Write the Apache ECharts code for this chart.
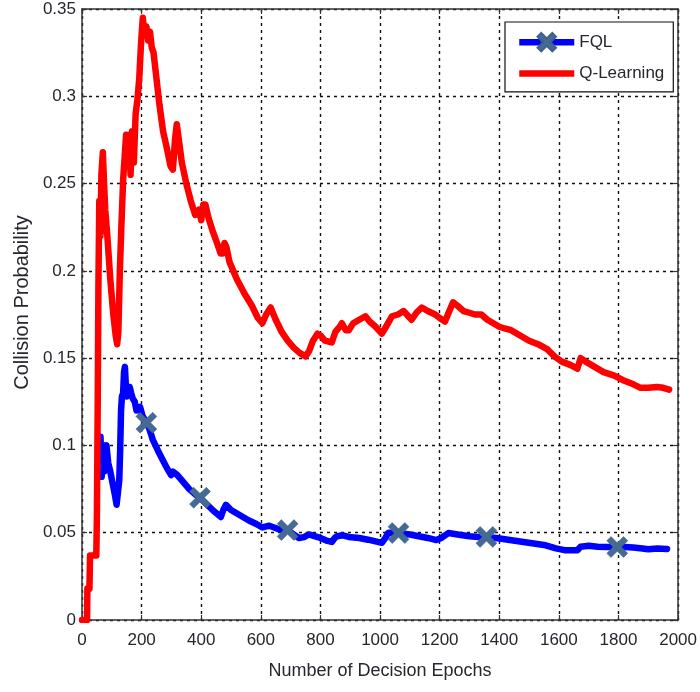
<!DOCTYPE html>
<html>
<head>
<meta charset="utf-8">
<title>Collision Probability vs Decision Epochs</title>
<script src="https://cdn.jsdelivr.net/npm/echarts@6/dist/echarts.min.js"></script>
<style>
  html, body { margin: 0; padding: 0; background: #fff; }
  #chart { width: 700px; height: 692px; }
</style>
</head>
<body>
<div id="chart"></div>
<script>
// Decision epochs and collision probability of the two learners
const seriesNames = ['FQL', 'Q-Learning'];

const fqlEpochs = [62, 66, 70, 74, 78, 82, 88, 95, 103, 110, 116, 121, 125, 128, 131, 134, 138, 141, 144, 147,
  150, 155, 160, 165, 170, 177, 183, 188, 195, 203, 216, 225, 238, 255, 270, 285, 299, 305, 310, 320,
  340, 360, 380, 396, 420, 445, 466, 474, 483, 500, 530, 560, 585, 605, 615, 628, 645, 660, 690, 710,
  728, 745, 761, 780, 800, 820, 838, 848, 856, 875, 895, 930, 960, 985, 1006, 1018, 1028, 1062, 1100, 1130,
  1160, 1189, 1205, 1229, 1260, 1300, 1330, 1357, 1390, 1430, 1470, 1510, 1550, 1590, 1619, 1640, 1662, 1673, 1700, 1730,
  1760, 1796, 1820, 1850, 1880, 1900, 1930, 1963];
const fqlValues = [0.105, 0.082, 0.100, 0.085, 0.098, 0.100, 0.090, 0.085, 0.078, 0.072, 0.066, 0.065, 0.080, 0.097, 0.120, 0.128, 0.130, 0.142, 0.145, 0.135,
  0.128, 0.130, 0.1335, 0.130, 0.127, 0.125, 0.120, 0.120, 0.122, 0.117, 0.113, 0.110, 0.103, 0.097, 0.092, 0.087, 0.083, 0.085, 0.086, 0.083,
  0.079, 0.075, 0.072, 0.070, 0.066, 0.062, 0.059, 0.063, 0.066, 0.063, 0.060, 0.057, 0.055, 0.053, 0.0535, 0.054, 0.053, 0.052, 0.0515, 0.049,
  0.047, 0.0475, 0.049, 0.048, 0.047, 0.0455, 0.0447, 0.047, 0.048, 0.0485, 0.0476, 0.047, 0.046, 0.045, 0.0442, 0.047, 0.050, 0.0498, 0.049, 0.048,
  0.047, 0.0458, 0.047, 0.0498, 0.049, 0.048, 0.0475, 0.0476, 0.047, 0.046, 0.045, 0.044, 0.043, 0.041, 0.040, 0.040, 0.040, 0.042, 0.0425, 0.042,
  0.0418, 0.0418, 0.0418, 0.0415, 0.041, 0.0405, 0.041, 0.0407];
// Epochs at which the FQL curve carries a cross marker
const fqlMarkerEpochs = [216, 396, 690, 1062, 1357, 1796];

const qlEpochs = [0, 17, 18, 25, 27, 48, 50, 53, 55, 58, 62, 65, 70, 74, 78, 85, 95, 105, 113, 118,
  122, 127, 132, 138, 143, 148, 153, 158, 163, 168, 174, 180, 186, 192, 198, 204, 210, 216, 222, 228,
  234, 240, 250, 260, 272, 285, 297, 305, 312, 318, 325, 335, 350, 365, 380, 392, 400, 407, 414, 425,
  440, 455, 465, 472, 478, 484, 495, 520, 545, 570, 590, 605, 618, 633, 650, 670, 690, 710, 730, 750,
  762, 775, 790, 800, 815, 838, 850, 865, 872, 885, 895, 910, 930, 951, 965, 985, 1006, 1020, 1040, 1060,
  1079, 1095, 1106, 1122, 1140, 1160, 1185, 1200, 1218, 1230, 1245, 1260, 1280, 1300, 1318, 1340, 1360, 1380, 1400, 1418,
  1440, 1470, 1500, 1530, 1562, 1585, 1610, 1640, 1662, 1673, 1690, 1720, 1750, 1786, 1820, 1850, 1874, 1900, 1930, 1950,
  1970];
const qlValues = [0, 0, 0.018, 0.018, 0.037, 0.037, 0.060, 0.130, 0.190, 0.240, 0.220, 0.255, 0.268, 0.250, 0.235, 0.220, 0.195, 0.175, 0.163, 0.158,
  0.165, 0.200, 0.225, 0.252, 0.265, 0.278, 0.265, 0.278, 0.255, 0.280, 0.262, 0.290, 0.298, 0.310, 0.330, 0.345, 0.335, 0.340, 0.332, 0.337,
  0.328, 0.325, 0.310, 0.295, 0.280, 0.270, 0.260, 0.258, 0.275, 0.284, 0.275, 0.262, 0.250, 0.240, 0.232, 0.235, 0.229, 0.238, 0.238, 0.230,
  0.222, 0.215, 0.210, 0.210, 0.216, 0.214, 0.205, 0.195, 0.187, 0.180, 0.173, 0.170, 0.175, 0.179, 0.172, 0.165, 0.160, 0.156, 0.153, 0.151,
  0.154, 0.160, 0.164, 0.163, 0.160, 0.159, 0.165, 0.168, 0.170, 0.166, 0.166, 0.170, 0.172, 0.174, 0.171, 0.168, 0.164, 0.168, 0.174, 0.175,
  0.177, 0.174, 0.172, 0.176, 0.179, 0.177, 0.175, 0.173, 0.171, 0.176, 0.182, 0.180, 0.177, 0.176, 0.175, 0.175, 0.172, 0.170, 0.168, 0.167,
  0.166, 0.163, 0.160, 0.158, 0.155, 0.151, 0.148, 0.146, 0.144, 0.150, 0.148, 0.145, 0.142, 0.140, 0.137, 0.135, 0.133, 0.133, 0.1335, 0.133,
  0.132];

const xTicks = { min: 0, max: 2000, interval: 200 };
const yTicks = { min: 0, max: 0.35, interval: 0.05 };

// Thick cross marker
const crossPath = 'path://M2,0 L5,3 L8,0 L10,2 L7,5 L10,8 L8,10 L5,7 L2,10 L0,8 L3,5 L0,2 Z';

const fqlData = fqlEpochs.map((x, i) => {
  const item = { value: [x, fqlValues[i]] };
  if (fqlMarkerEpochs.indexOf(x) < 0) item.symbol = 'none';
  return item;
});
const qlData = qlEpochs.map((x, i) => [x, qlValues[i]]);

const fontFamily = '"Liberation Sans", Arial, sans-serif';
const textColor = '#26262e';
const frameColor = '#333333';
const lineWidth = 6.5;

const gridLine = { show: true, lineStyle: { color: '#111', width: 1.4, type: [3, 4] } };
const frameLine = { show: true, onZero: false, lineStyle: { color: frameColor, width: 1.5 } };
const innerTick = { show: true, inside: true, length: 5, lineStyle: { color: frameColor, width: 1.2 } };

const chart = echarts.init(document.getElementById('chart'), null, { renderer: 'canvas' });

chart.setOption({
  backgroundColor: '#ffffff',
  animation: false,
  grid: { left: 82, right: 19, top: 9, bottom: 72, containLabel: false },
  legend: {
    data: [
      { name: seriesNames[0] },
      // the Q-Learning entry is a plain line, no marker
      { name: seriesNames[1], itemStyle: { opacity: 0 } }
    ],
    orient: 'vertical',
    left: 505,
    top: 22,
    padding: [10, 9, 9, 11],
    itemWidth: 55,
    itemHeight: 23,
    itemGap: 12,
    itemTextGap: 6,
    lineStyle: { width: lineWidth, cap: 'butt' },
    backgroundColor: '#ffffff',
    borderColor: '#111',
    borderWidth: 1.2,
    borderRadius: 0,
    textStyle: { fontFamily, fontSize: 17, color: textColor }
  },
  xAxis: [
    {
      type: 'value',
      position: 'bottom',
      min: xTicks.min, max: xTicks.max, interval: xTicks.interval,
      name: 'Number of Decision Epochs',
      nameLocation: 'middle',
      nameGap: 42,
      nameTextStyle: { fontFamily, fontSize: 18, color: textColor },
      axisLine: frameLine,
      axisTick: innerTick,
      splitLine: gridLine,
      axisLabel: { fontFamily, fontSize: 17, color: textColor, margin: 12, formatter: v => String(v) }
    },
    {
      type: 'value',
      position: 'top',
      min: xTicks.min, max: xTicks.max, interval: xTicks.interval,
      axisLine: frameLine,
      axisTick: innerTick,
      splitLine: { show: false },
      axisLabel: { show: false }
    }
  ],
  yAxis: [
    {
      type: 'value',
      position: 'left',
      min: yTicks.min, max: yTicks.max, interval: yTicks.interval,
      name: 'Collision Probability',
      nameLocation: 'middle',
      nameGap: 50,
      nameTextStyle: { fontFamily, fontSize: 20, color: textColor, padding: [0, 0, 0, 24] },
      axisLine: frameLine,
      axisTick: innerTick,
      splitLine: gridLine,
      axisLabel: {
        fontFamily, fontSize: 17, color: textColor, margin: 6,
        formatter: v => String(parseFloat(v.toFixed(2)))
      }
    },
    {
      type: 'value',
      position: 'right',
      min: yTicks.min, max: yTicks.max, interval: yTicks.interval,
      axisLine: frameLine,
      axisTick: innerTick,
      splitLine: { show: false },
      axisLabel: { show: false }
    }
  ],
  series: [
    {
      name: seriesNames[0],
      type: 'line',
      xAxisIndex: 0,
      yAxisIndex: 0,
      data: fqlData,
      symbol: crossPath,
      symbolSize: 21,
      showSymbol: true,
      color: '#0000ff',
      lineStyle: { color: '#0000ff', width: lineWidth, join: 'round', cap: 'round' },
      itemStyle: { color: '#456b94', borderColor: '#3d6189', borderWidth: 0.5 },
      emphasis: { disabled: true },
      z: 3
    },
    {
      name: seriesNames[1],
      type: 'line',
      xAxisIndex: 0,
      yAxisIndex: 0,
      data: qlData,
      symbol: 'none',
      color: '#ff0000',
      lineStyle: { color: '#ff0000', width: lineWidth, join: 'round', cap: 'round' },
      itemStyle: { color: '#ff0000' },
      emphasis: { disabled: true },
      z: 4
    }
  ]
});
</script>
</body>
</html>
